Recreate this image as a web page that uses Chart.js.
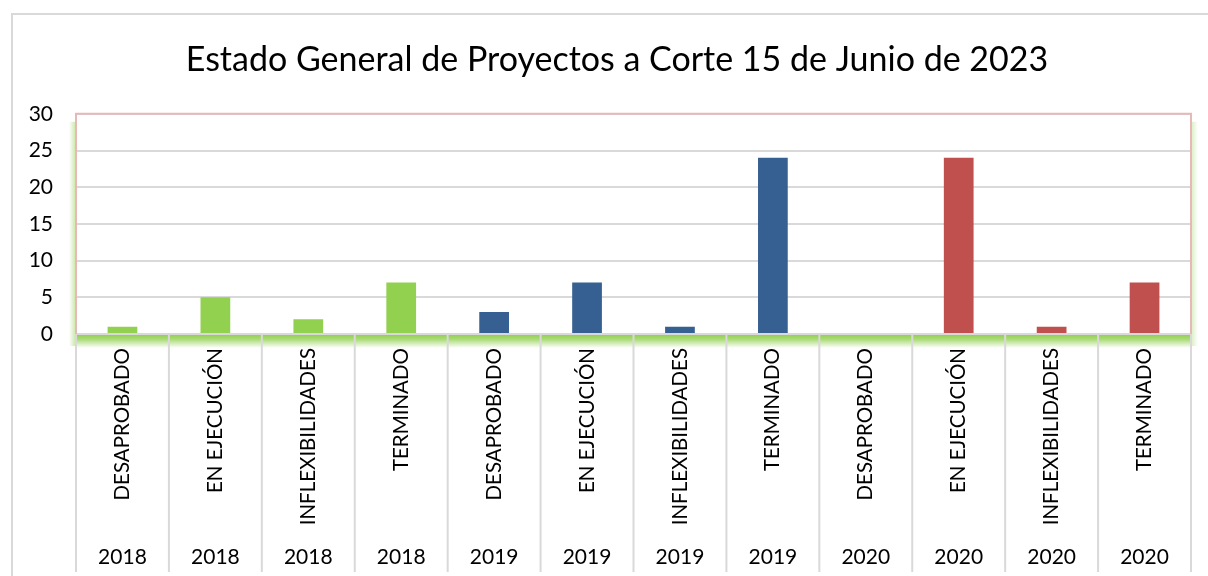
<!DOCTYPE html>
<html>
<head>
<meta charset="utf-8">
<script src="https://cdn.jsdelivr.net/npm/chart.js@4/dist/chart.umd.min.js"></script>
<style>
  html, body { margin: 0; padding: 0; background: #fff; }
  #wrap { position: relative; width: 1208px; height: 576px; }
</style>
</head>
<body>
<div id="wrap"><canvas id="c" width="1208" height="576"></canvas></div>
<script>
const title = 'Estado General de Proyectos a Corte 15 de Junio de 2023';
const statuses = ['DESAPROBADO', 'EN EJECUCIÓN', 'INFLEXIBILIDADES', 'TERMINADO',
                  'DESAPROBADO', 'EN EJECUCIÓN', 'INFLEXIBILIDADES', 'TERMINADO',
                  'DESAPROBADO', 'EN EJECUCIÓN', 'INFLEXIBILIDADES', 'TERMINADO'];
const years = ['2018', '2018', '2018', '2018', '2019', '2019', '2019', '2019', '2020', '2020', '2020', '2020'];
const values = [1, 5, 2, 7, 3, 7, 1, 24, 0, 24, 1, 7];
const yTicks = [0, 5, 10, 15, 20, 25, 30];

const yearColors = { '2018': '#92d050', '2019': '#376092', '2020': '#c0504d' };
const FONT = 'Lato, "Liberation Sans", sans-serif';

const decor = {
  id: 'decor',
  afterLayout(chart) {
    // centre the title over the outer chart frame rather than the canvas
    if (chart.titleBlock) chart.titleBlock.left += 43;
  },
  beforeDraw(chart) {
    const ctx = chart.ctx;
    ctx.save();
    ctx.strokeStyle = '#d9d9d9';
    ctx.lineWidth = 2;
    ctx.beginPath();
    ctx.moveTo(12, chart.height + 5);
    ctx.lineTo(12, 14);
    ctx.lineTo(chart.width + 5, 14);
    ctx.stroke();
    ctx.restore();
  },
  beforeDatasetsDraw(chart) {
    const ctx = chart.ctx;
    const a = chart.chartArea;
    ctx.save();
    ctx.strokeStyle = '#e6b9b8';
    ctx.lineWidth = 2;
    ctx.beginPath();
    ctx.moveTo(a.left, a.bottom);
    ctx.lineTo(a.left, a.top);
    ctx.lineTo(a.right, a.top);
    ctx.lineTo(a.right, a.bottom);
    ctx.stroke();
    let g = ctx.createLinearGradient(0, a.bottom + 1, 0, a.bottom + 14);
    g.addColorStop(0, 'rgba(146,208,80,1)');
    g.addColorStop(0.35, 'rgba(146,208,80,0.75)');
    g.addColorStop(1, 'rgba(146,208,80,0)');
    ctx.fillStyle = g;
    ctx.fillRect(a.left, a.bottom + 1, a.right - a.left, 13);
    g = ctx.createLinearGradient(a.left - 1, 0, a.left - 7, 0);
    g.addColorStop(0, 'rgba(146,208,80,0.45)');
    g.addColorStop(1, 'rgba(146,208,80,0)');
    ctx.fillStyle = g;
    ctx.fillRect(a.left - 7, a.top + 8, 6, a.bottom - a.top + 4);
    g = ctx.createLinearGradient(a.right + 1, 0, a.right + 7, 0);
    g.addColorStop(0, 'rgba(146,208,80,0.3)');
    g.addColorStop(1, 'rgba(146,208,80,0)');
    ctx.fillStyle = g;
    ctx.fillRect(a.right + 1, a.top + 8, 6, a.bottom - a.top + 4);
    ctx.restore();
  },
  afterDraw(chart) {
    const ctx = chart.ctx;
    const a = chart.chartArea;
    const xs = chart.scales.x;
    ctx.save();
    ctx.strokeStyle = '#d9d9d9';
    ctx.lineWidth = 2;
    ctx.beginPath();
    const n = statuses.length;
    for (let i = 0; i <= n; i++) {
      let px;
      if (i === 0) px = a.left;
      else if (i === n) px = a.right;
      else px = (xs.getPixelForValue(i - 1) + xs.getPixelForValue(i)) / 2;
      ctx.moveTo(px, a.bottom + 1);
      ctx.lineTo(px, chart.height - 4);
    }
    ctx.stroke();
    ctx.restore();
  }
};

new Chart(document.getElementById('c'), {
  type: 'bar',
  data: {
    labels: statuses,
    datasets: [{
      data: values,
      backgroundColor: years.map(y => yearColors[y]),
      borderWidth: 0,
      barPercentage: 0.32,
      categoryPercentage: 1.0,
      xAxisID: 'x'
    }]
  },
  options: {
    responsive: false,
    animation: false,
    events: [],
    layout: { padding: { left: 0, right: 17, top: 0, bottom: 0 } },
    plugins: {
      legend: { display: false },
      tooltip: { enabled: false },
      title: {
        display: true,
        text: title,
        color: '#000',
        font: { family: FONT, size: 34, weight: 'normal', lineHeight: 1.2 },
        padding: { top: 40, bottom: 33 }
      }
    },
    scales: {
      x: {
        type: 'category',
        position: 'bottom',
        weight: 0,
        grid: { display: false, drawTicks: false },
        border: { display: true, color: '#d9d9d9', width: 2 },
        ticks: {
          autoSkip: false,
          minRotation: 90,
          maxRotation: 90,
          padding: 14,
          color: '#000',
          font: { family: FONT, size: 20.5 }
        },
        afterFit(s) { s.height = 196; }
      },
      x2: {
        type: 'category',
        position: 'bottom',
        weight: 1,
        labels: years,
        offset: true,
        grid: { display: false, drawTicks: false },
        border: { display: false },
        ticks: {
          autoSkip: false,
          maxRotation: 0,
          minRotation: 0,
          padding: 15,
          color: '#000',
          font: { family: FONT, size: 21 }
        },
        afterFit(s) { s.height = 46; }
      },
      y: {
        min: yTicks[0],
        max: yTicks[yTicks.length - 1],
        afterBuildTicks(s) { s.ticks = yTicks.map(v => ({ value: v })); },
        grid: { color: '#d9d9d9', lineWidth: 2, drawTicks: false },
        border: { display: false },
        ticks: {
          padding: 23,
          color: '#000',
          font: { family: FONT, size: 21 }
        },
        afterFit(s) { s.width = 76; }
      }
    }
  },
  plugins: [decor]
});
</script>
</body>
</html>
